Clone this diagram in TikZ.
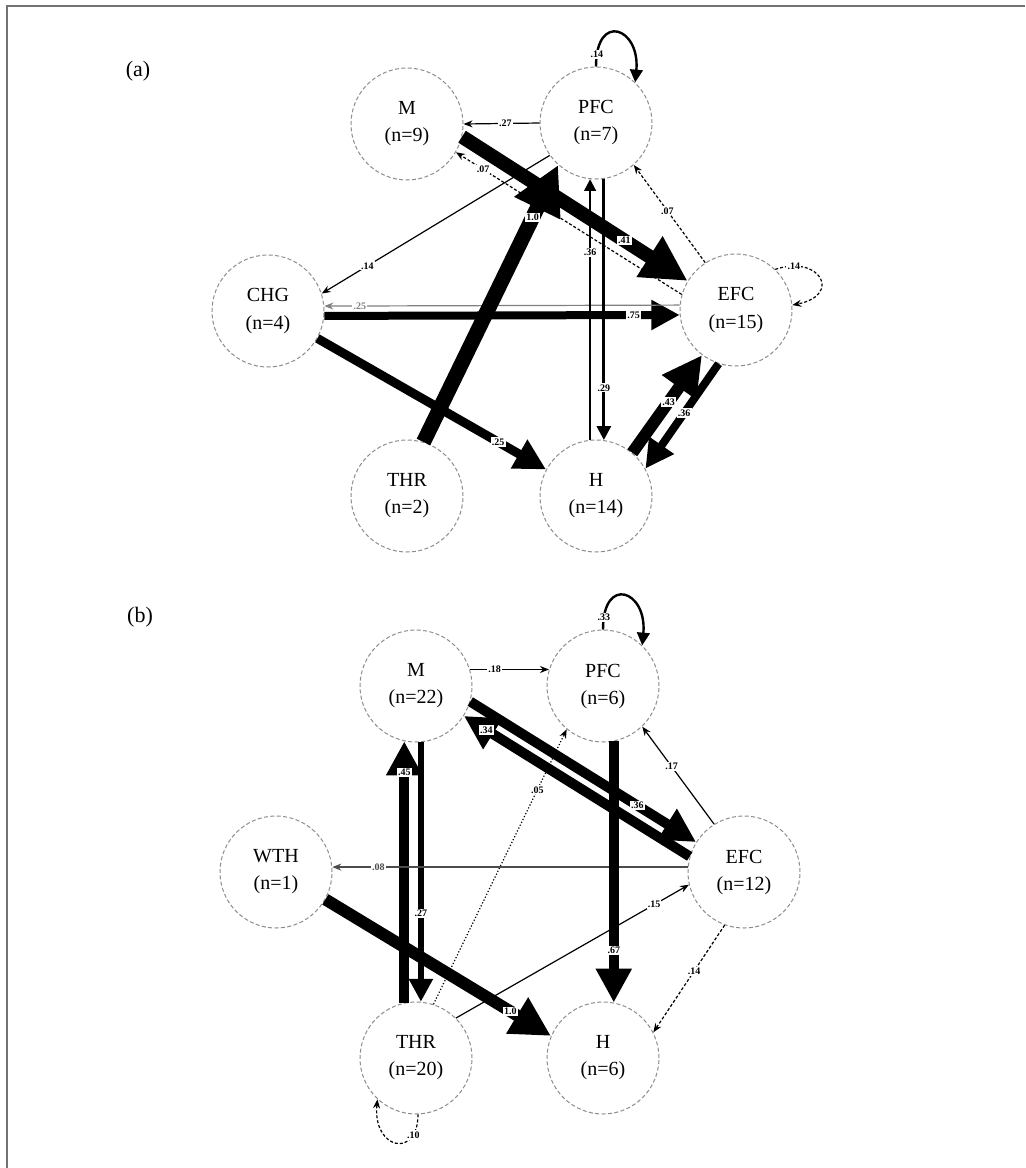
\documentclass[tikz,border=0pt]{standalone}
\usepackage{fontspec}
\setmainfont{Liberation Serif}
\usetikzlibrary{arrows.meta}

\begin{document}
\begin{tikzpicture}[
  x=0.5pt, y=-0.5pt,
  state/.style={circle, draw=black!45, dash pattern=on 2pt off 1.2pt, line width=0.5pt,
                minimum size=56pt, inner sep=0pt, align=center,
                font=\fontsize{10}{13.5}\selectfont},
  tarr/.style={-{Stealth[length=4.5pt, width=3.5pt]}, line width=0.6pt},
  dsh/.style={tarr, dash pattern=on 1.5pt off 1pt},
  dtt/.style={tarr, densely dotted},
  band/.style={line width=#1, -{Triangle[length=3pt 2.8, width=3pt 2.8]}},
  lbl/.style={fill=white, inner sep=0.6pt, font=\fontsize{5}{5}\selectfont\bfseries},
  tag/.style={font=\fontsize{11}{13}\selectfont}
]
  \useasboundingbox (0,0) rectangle (1025,1168);
  \draw[black!55, line width=1pt] (7,1168) -- (7,6) -- (1025,6);

  % panel (a)
  \node[tag] (ta) at (138,71) {(a)};
  \node[state] (aM)   at (407,124) {M\\(n=9)};
  \node[state] (aPFC) at (596,123) {PFC\\(n=7)};
  \node[state] (aCHG) at (268,311) {CHG\\(n=4)};
  \node[state] (aEFC) at (736,310) {EFC\\(n=15)};
  \node[state] (aTHR) at (407,496) {THR\\(n=2)};
  \node[state] (aH)   at (596,496) {H\\(n=14)};

  \draw[tarr] (aPFC.west) -- node[lbl, pos=0.45]{.27} (aM.east);
  \draw[band=7pt] (aM.-13) -- node[lbl, pos=0.72]{.41} (aEFC.149);
  \draw[dsh] (aEFC.164) -- node[lbl, pos=0.88]{.07} (aM.-30);
  \draw[tarr] (aPFC.215) -- node[lbl, pos=0.8]{.14} (aCHG.18);
  \draw[band=4pt] (aCHG.-5) -- node[lbl, pos=0.87]{.75} (aEFC.185);
  \draw[tarr, black!50] (aEFC.175) -- node[lbl, pos=0.9]{.25} (aCHG.5);
  \draw[band=4.5pt] (aCHG.-29) -- node[lbl, pos=0.79]{.25} (aH.152);
  \draw[band=7.5pt] (aTHR.73) -- node[lbl, pos=0.81]{1.0} (aPFC.228);
  \draw[band=1pt] (aH.96) -- node[lbl, pos=0.72]{.36} (aPFC.264);
  \draw[band=1.4pt] (aPFC.278) -- node[lbl, pos=0.8]{.29} (aH.82);
  \draw[dsh] (aEFC.123) -- node[lbl, pos=0.53]{.07} (aPFC.-48);
  \draw[band=6pt] (aH.50) -- node[lbl, pos=0.52]{.43} (aEFC.233);
  \draw[band=4pt] (aEFC.252) -- node[lbl, pos=0.47]{.36} (aH.29);
  \draw[band=1.2pt] (aPFC.90) .. controls +(0,-55) and +(5,-55) .. (aPFC.46)
    node[lbl, pos=0.08]{.14};
  \draw[dsh] (aEFC.46) .. controls +(45,-15) and +(50,-10) .. (aEFC.5)
    node[lbl, pos=0.15]{.14};

  % panel (b)
  \node[tag] (tb) at (140,617) {(b)};
  \node[state] (bM)   at (416,686) {M\\(n=22)};
  \node[state] (bPFC) at (603,686) {PFC\\(n=6)};
  \node[state] (bWTH) at (276,872) {WTH\\(n=1)};
  \node[state] (bEFC) at (744,872) {EFC\\(n=12)};
  \node[state] (bTHR) at (416,1058) {THR\\(n=20)};
  \node[state] (bH)   at (603,1058) {H\\(n=6)};

  \draw[tarr] (bM.17) -- node[lbl, pos=0.31]{.18} (bPFC.163);
  \draw[band=5pt] (bM.-16) -- node[lbl, pos=0.74]{.36} (bEFC.148);
  \draw[band=5pt] (bEFC.164) -- node[lbl, pos=0.9]{.34} (bM.-32);
  \draw[band=5pt] (bTHR.102) -- node[lbl, pos=0.88]{.45} (bM.258);
  \draw[band=3pt] (bM.275) -- node[lbl, pos=0.66]{.27} (bTHR.85);
  \draw[dtt] (bTHR.72) -- node[lbl, pos=0.78]{.05} (bPFC.230);
  \draw[tarr] (bEFC.122) -- node[lbl, pos=0.59]{.17} (bPFC.-46);
  \draw[tarr, black!70] (bEFC.175) -- node[lbl, pos=0.87]{.08} (bWTH.5);
  \draw[band=6pt] (bWTH.-29) -- node[lbl, pos=0.82]{1.0} (bH.157);
  \draw[band=5pt] (bPFC.281) -- node[lbl, pos=0.8]{.67} (bH.79);
  \draw[tarr] (bTHR.45) -- node[lbl, pos=0.85]{.15} (bEFC.193);
  \draw[dsh] (bEFC.250) -- node[lbl, pos=0.43]{.14} (bH.27);
  \draw[band=1.2pt] (bPFC.90) .. controls +(0,-55) and +(5,-55) .. (bPFC.46)
    node[lbl, pos=0.08]{.33};
  \draw[dsh] (bTHR.-88) .. controls +(0,45) and +(-5,50) .. (bTHR.227)
    node[lbl, pos=0.2]{.10};
\end{tikzpicture}
\end{document}
